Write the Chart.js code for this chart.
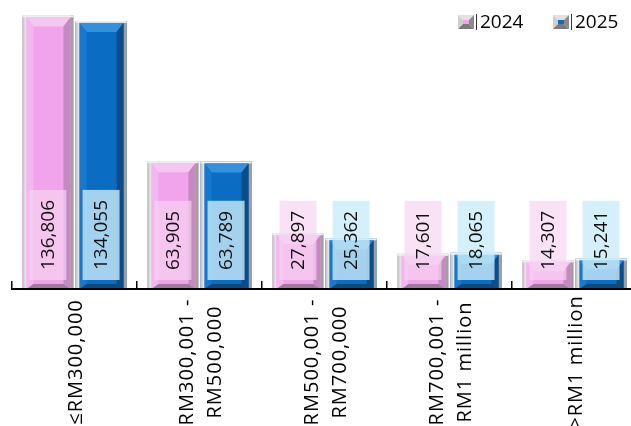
<!DOCTYPE html>
<html>
<head>
<meta charset="utf-8">
<script src="https://cdn.jsdelivr.net/npm/chart.js@4/dist/chart.umd.min.js"></script>
<style>
	html, body { margin: 0; padding: 0; background: #fff; overflow: hidden; }
	#wrap { width: 637px; height: 426px; }
</style>
</head>
<body>
<div id="wrap"><canvas id="barChart"></canvas></div>
<script>
// loan size bands and counts per year
const categories = [
	['≤RM300,000'],
	['RM300,001 -', 'RM500,000'],
	['RM500,001 -', 'RM700,000'],
	['RM700,001 -', 'RM1 million'],
	['>RM1 million']
];
const seriesNames = ['2024', '2025'];
const values2024 = [136806, 63905, 27897, 17601, 14307];
const values2025 = [134055, 63789, 25362, 18065, 15241];

// colours for the bevelled bars
const palettes = [
	{ face: '#f1a4eb', top: '#f6c6f2', left: '#f4b6ef', right: '#c489c0', bottom: '#a07a9e',
		box: 'rgba(246,212,242,0.68)' },
	{ face: '#0a6cc3', top: '#3290dc', left: '#1878cd', right: '#0b4c8a', bottom: '#0b4a80',
		box: 'rgba(203,236,249,0.8)' }
];

function poly(c, pts, color)
{
	c.beginPath();
	c.moveTo(pts[0][0], pts[0][1]);
	for (let i = 1; i < pts.length; i++) {
		c.lineTo(pts[i][0], pts[i][1]);
	}
	c.closePath();
	c.fillStyle = color;
	c.fill();
}

function drawBevel(c, left, top, right, bottom, pal)
{
	// grey rim round the bar
	const rim = c.createLinearGradient(left, 0, left + 4, 0);
	rim.addColorStop(0, '#bcbcbc');
	rim.addColorStop(1, '#f2f2f2');
	c.fillStyle = rim;
	c.fillRect(left, top, 4, bottom - top);
	c.fillStyle = '#9f9f9f';
	c.fillRect(right - 3, top, 3, bottom - top);
	c.fillStyle = '#f0f0f0';
	c.fillRect(left, top, right - left, 2);

	const l = left + 4, r = right - 3, t = top + 2, b = bottom;
	const bt = Math.min(9, (b - t) / 3);
	const bs = 7;
	const bb = Math.min(5, (b - t) / 4);

	poly(c, [[l, t], [r, t], [r - bs, t + bt], [l + bs, t + bt]], pal.top);
	poly(c, [[l, t], [l + bs, t + bt], [l + bs, b - bb], [l, b]], pal.left);
	poly(c, [[r, t], [r, b], [r - bs, b - bb], [r - bs, t + bt]], pal.right);
	poly(c, [[l, b], [l + bs, b - bb], [r - bs, b - bb], [r, b]], pal.bottom);
}

// bevels and the boxed value labels on every bar
const barDecor = {
	id: 'barDecor',
	afterDatasetsDraw(chart)
	{
		const c = chart.ctx;
		chart.data.datasets.forEach((ds, di) =>
		{
			const pal = palettes[di];
			chart.getDatasetMeta(di).data.forEach((bar) =>
			{
				const w = bar.width;
				drawBevel(c, bar.x - w / 2, bar.y, bar.x + w / 2, bar.base, pal);
			});
		});

		c.save();
		c.font = '19px "Open Sans"';
		chart.data.datasets.forEach((ds, di) =>
		{
			const pal = palettes[di];
			chart.getDatasetMeta(di).data.forEach((bar, i) =>
			{
				const text = ds.data[i].toLocaleString('en-US');
				const h = c.measureText(text).width + 20;
				const bottom = bar.base - 9;
				c.fillStyle = pal.box;
				c.fillRect(bar.x - 18.5, bottom - h, 37, h);
				c.save();
				c.translate(bar.x + 1, bottom - h / 2);
				c.rotate(-Math.PI / 2);
				c.fillStyle = '#111';
				c.textAlign = 'center';
				c.textBaseline = 'middle';
				c.fillText(text, 0, 0);
				c.restore();
			});
		});
		c.restore();
	}
};

// rotated category names under the axis
const categoryLabels = {
	id: 'categoryLabels',
	afterDraw(chart)
	{
		const c = chart.ctx;
		const xs = chart.scales.x;
		c.save();
		c.font = '20px "Open Sans"';
		c.letterSpacing = '1px';
		c.fillStyle = '#000';
		c.textAlign = 'center';
		c.textBaseline = 'middle';
		categories.forEach((lines, i) =>
		{
			const cx = xs.getPixelForValue(i) + 2;
			c.save();
			c.translate(cx, 362);
			c.rotate(-Math.PI / 2);
			lines.forEach((line, j) =>
			{
				c.fillText(line, 0, (j - (lines.length - 1) / 2) * 28);
			});
			c.restore();
		});
		c.restore();
	}
};

// legend with small bevelled squares
const bevelLegend = {
	id: 'bevelLegend',
	afterDraw(chart)
	{
		const c = chart.ctx;
		const spots = [458, 553];
		c.save();
		c.font = '19px "Open Sans"';
		c.textBaseline = 'middle';
		c.textAlign = 'left';
		chart.data.datasets.forEach((ds, di) =>
		{
			const pal = palettes[di];
			const x = spots[di];
			const y = 15;
			poly(c, [[x, y], [x + 16, y], [x + 11, y + 5], [x + 5, y + 5]], '#e2e2e2');
			poly(c, [[x, y], [x + 5, y + 5], [x + 5, y + 9], [x, y + 14]], '#cfcfcf');
			poly(c, [[x + 16, y], [x + 16, y + 14], [x + 11, y + 9], [x + 11, y + 5]], '#8a8a8a');
			poly(c, [[x, y + 14], [x + 5, y + 9], [x + 11, y + 9], [x + 16, y + 14]], '#7a7a7a');
			c.fillStyle = pal.face;
			c.fillRect(x + 5, y + 5, 6, 4);
			c.fillStyle = '#333';
			c.fillRect(x + 18, y - 1, 1, 16);
			c.fillStyle = '#000';
			c.fillText(ds.label, x + 22, 23);
		});
		c.restore();
	}
};

const ctx = document.getElementById('barChart').getContext('2d');

const chart = new Chart(ctx, {
	type: 'bar',
	data: {
		labels: categories,
		datasets: [
			{
				label: seriesNames[0],
				data: values2024,
				backgroundColor: palettes[0].face,
				borderWidth: 0
			},
			{
				label: seriesNames[1],
				data: values2025,
				backgroundColor: palettes[1].face,
				borderWidth: 0
			}
		]
	},
	options: {
		responsive: true,
		maintainAspectRatio: false,
		animation: false,
		categoryPercentage: 0.85,
		barPercentage: 0.96,
		layout: { padding: { left: 12, top: 9, right: 0, bottom: 0 } },
		plugins: {
			legend: { display: false },
			tooltip: { enabled: false }
		},
		scales: {
			x: {
				offset: true,
				grid: {
					offset: true,
					drawOnChartArea: false,
					drawTicks: true,
					tickLength: -8,
					color: '#000',
					lineWidth: 1.5,
					z: 1
				},
				border: { display: true, color: '#000', width: 2, z: 1 },
				ticks: { display: false },
				afterFit: (scale) => { scale.height = 137; }
			},
			y: {
				display: false,
				min: 0,
				max: 140000
			}
		}
	},
	plugins: [barDecor, categoryLabels, bevelLegend]
});
</script>
</body>
</html>
